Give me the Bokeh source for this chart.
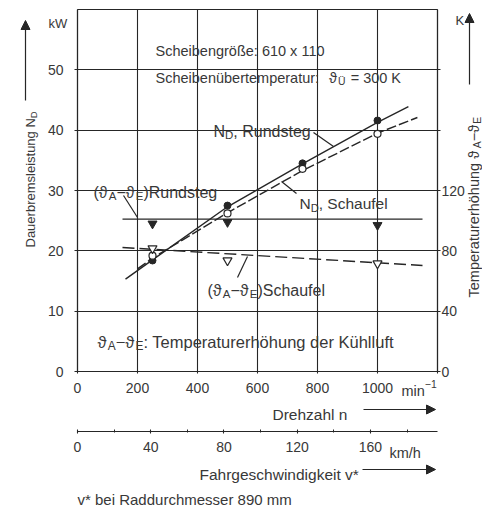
import math
from bokeh.plotting import figure
from bokeh.models import Range1d, LinearAxis, FixedTicker, Label, Arrow, NormalHead
from bokeh.embed import file_html
from bokeh.resources import INLINE

# ---------------- data ----------------
rpm_ticks = [0, 200, 400, 600, 800, 1000, 1200]
rpm_tick_labels = ["0", "200", "400", "600", "800", "1000", ""]
kmh_ticks = [0, 40, 80, 120, 160]
kmh_minor = [20, 60, 100, 140, 180]
kw_ticks = [0, 10, 20, 30, 40, 50]
k_ticks = [0, 40, 80, 120, 160, 200]
k_tick_labels = ["0", "40", "80", "120", "", ""]

# N_D curves (kW)
n_curve_rund = [160, 250, 500, 750, 1000, 1103]
nd_curve_rund = [15.3, 18.5, 27.3, 34.4, 41.3, 43.9]
n_curve_schau = [200, 250, 500, 750, 1000, 1133]
nd_curve_schau = [17.0, 18.8, 26.3, 33.3, 39.5, 42.1]

# N_D measured points (kW)
n_meas = [250, 500, 750, 1000]
nd_meas_rund = [18.4, 27.5, 34.5, 41.6]
nd_meas_schau = [19.2, 26.2, 33.6, 39.4]

# temperature rise measured points (K)
n_temp_meas = [250, 500, 1000]
temp_meas_rund = [98, 99, 97]
temp_meas_schau = [81.6, 73.6, 71.6]

# temperature rise lines (K)
n_temp_line = [150, 1150]
temp_line_rund = [101, 101]
temp_line_schau = [82.2, 70.3]

KMH_MAX = 196.6  # km/h at 1200 min^-1 as drawn

# ---------------- styling / page geometry ----------------
FONT = "Liberation Sans"
TXT = "#383838"
LC = "#262626"

WIDTH, HEIGHT = 482, 510
X0, Y0 = 77.0, 371.0           # page pixel of the data origin
SX = 360.0 / 1200.0            # px per min^-1
SY = 362.0 / 60.0              # px per kW


def dx(X):
    return (X - X0) / SX


def dy(Y):
    return (Y0 - Y) / SY


XMIN, XMAX = dx(0), dx(WIDTH)
YMIN, YMAX = dy(HEIGHT), dy(0)

W = {' ': 278, '(': 333, ')': 333, ',': 278, ':': 278, '=': 584, '−': 584, '-': 333,
     '*': 389, '/': 278, 'A': 667, 'D': 722, 'E': 667, 'K': 667, 'N': 722, 'R': 722,
     'S': 667, 'T': 611, 'F': 611, 'W': 944, 'Ü': 722, 'a': 556, 'b': 556, 'c': 500,
     'd': 556, 'e': 556, 'f': 278, 'g': 556, 'h': 556, 'i': 222, 'k': 500, 'l': 222,
     'm': 833, 'n': 556, 'o': 556, 'p': 556, 'r': 333, 's': 500, 't': 278, 'u': 556,
     'v': 500, 'w': 722, 'x': 500, 'z': 500, 'ö': 556, 'ü': 556, 'ß': 611, 'ϑ': 620,
     '1': 556}


def tw(s, size):
    return sum(W.get(c, 556) for c in s) * size / 1000.0


bg_layer, fg_layer = [], []


def rich(parts, X, Y, size, angle=0.0, pad=None, color=TXT):
    """parts: (text, kind) with kind 'n', 'sub', 'sup'; or a number = extra gap px.
    X, Y: start of text (page px), Y = vertical centre of the normal text."""
    acc = 0.0
    for part in parts:
        if isinstance(part, (int, float)):
            acc += part
            continue
        txt, kind = part
        s = size if kind == 'n' else size * 0.72
        shift = 0.0 if kind == 'n' else (0.25 * size if kind == 'sub' else -0.42 * size)
        base = 0.35 * size
        if angle == 0.0:
            px, py = X + acc, Y + base + shift
        else:
            px, py = X + base + shift, Y - acc
        kw = dict(x=dx(px), y=dy(py), text=txt, angle=angle, text_font=FONT,
                  text_font_size=f"{s:.1f}px", text_baseline="alphabetic",
                  text_align="left")
        fg_layer.append(Label(text_color=color, **kw))
        if pad is not None:
            bg_layer.append(Label(text_alpha=0.0, background_fill_color="white",
                                  padding=pad, **kw))
        acc += tw(txt, s)


p = figure(width=WIDTH, height=HEIGHT, x_range=Range1d(XMIN, XMAX),
           y_range=Range1d(YMIN, YMAX), output_backend="svg", toolbar_location=None,
           x_axis_location=None, y_axis_location=None, min_border=0)
p.extra_y_ranges = {"temp": Range1d(4 * YMIN, 4 * YMAX)}
f = KMH_MAX / 1200.0
p.extra_x_ranges = {"kmh": Range1d(XMIN * f, XMAX * f)}
p.background_fill_color = "white"
p.border_fill_color = "white"
p.outline_line_color = None
p.grid.visible = False


def style_axis(a):
    a.axis_line_color = LC
    a.axis_line_width = 1.2
    a.major_tick_line_color = LC
    a.major_tick_line_width = 1.1
    a.minor_tick_line_color = None
    a.major_label_text_font = FONT
    a.major_label_text_font_size = "14px"
    a.major_label_text_color = TXT


# left axis (kW) – its inward ticks form the horizontal grid lines
ya = LinearAxis(ticker=FixedTicker(ticks=kw_ticks), fixed_location=0, bounds=(0, 60))
style_axis(ya)
ya.major_tick_in = 360
ya.major_tick_out = 3
ya.major_label_standoff = 11
p.add_layout(ya, "left")

# right axis (K)
ra = LinearAxis(y_range_name="temp", ticker=FixedTicker(ticks=k_ticks),
                major_label_overrides=dict(zip(k_ticks, k_tick_labels)),
                fixed_location=1200, bounds=(0, 240))
style_axis(ra)
ra.major_tick_in = 0
ra.major_tick_out = 3
ra.major_label_standoff = 1
p.add_layout(ra, "right")

# bottom axis (min^-1) – inward ticks form the vertical grid lines
xa = LinearAxis(ticker=FixedTicker(ticks=rpm_ticks),
                major_label_overrides=dict(zip(rpm_ticks, rpm_tick_labels)),
                fixed_location=0, bounds=(0, 1200))
style_axis(xa)
xa.major_tick_in = 362
xa.major_tick_out = 2
xa.major_label_standoff = 9
p.add_layout(xa, "below")

# top frame line
ta = LinearAxis(ticker=FixedTicker(ticks=[]), fixed_location=60, bounds=(0, 1200))
style_axis(ta)
ta.major_tick_in = 0
ta.major_tick_out = 0
p.add_layout(ta, "above")

# second bottom axis (km/h)
ka = LinearAxis(x_range_name="kmh", ticker=FixedTicker(ticks=kmh_ticks, minor_ticks=kmh_minor),
                fixed_location=dy(431), bounds=(0, KMH_MAX))
style_axis(ka)
ka.minor_tick_line_color = LC
ka.major_tick_in = 2
ka.major_tick_out = 2
ka.minor_tick_in = 2
ka.minor_tick_out = 1
ka.major_label_standoff = 8
p.add_layout(ka, "below")

# ---------------- data glyphs ----------------
p.line(n_curve_rund, nd_curve_rund, line_color=LC, line_width=1.4, level="overlay")
p.line(n_curve_schau, nd_curve_schau, line_color=LC, line_width=1.4, line_dash="10 3",
       level="overlay")
p.line(n_temp_line, temp_line_rund, y_range_name="temp", line_color=LC, line_width=1.4,
       level="overlay")
p.line(n_temp_line, temp_line_schau, y_range_name="temp", line_color=LC, line_width=1.4,
       line_dash="12 5", level="overlay")

p.scatter(n_meas, nd_meas_rund, marker="circle", size=7, fill_color=LC, line_color=LC,
          level="overlay")
p.scatter(n_meas, nd_meas_schau, marker="circle", size=7, fill_color="white",
          line_color=LC, line_width=1.2, level="overlay")
p.scatter(n_temp_meas, temp_meas_rund, y_range_name="temp", marker="inverted_triangle",
          size=9, fill_color=LC, line_color=LC, level="overlay")
p.scatter(n_temp_meas, temp_meas_schau, y_range_name="temp", marker="inverted_triangle",
          size=9, fill_color="white", line_color=LC, line_width=1.2, level="overlay")

# ---------------- texts ----------------
rich([("kW", 'n')], 48, 18, 13)
rich([("K", 'n')], 455, 15, 13)

rich([("Scheibengröße: 610 x 110", 'n')], 155, 45, 14.5, pad=8)
rich([("Scheibenübertemperatur:", 'n'), 10, ("ϑ", 'n'), ("Ü", 'sub'), 5, ("= 300 K", 'n')],
     155, 72, 14.5, pad=8)

rich([("N", 'n'), ("D", 'sub'), (", Rundsteg", 'n')], 213, 125, 16, pad=3)
rich([("N", 'n'), ("D", 'sub'), (", Schaufel", 'n')], 299, 198, 15.5, pad=3)
rich([("(ϑ", 'n'), ("A", 'sub'), ("−ϑ", 'n'), ("E", 'sub'), (")Rundsteg", 'n')],
     93, 186, 16, pad=3)
rich([("(ϑ", 'n'), ("A", 'sub'), ("−ϑ", 'n'), ("E", 'sub'), (")Schaufel", 'n')],
     207, 284, 16, pad=3)
rich([("ϑ", 'n'), ("A", 'sub'), ("−ϑ", 'n'), ("E", 'sub'),
      (": Temperaturerhöhung der Kühlluft", 'n')], 97, 336, 16.5, pad=4)

rich([("min", 'n'), ("−1", 'sup')], 401, 385, 14.5)
rich([("Drehzahl n", 'n')], 272, 409, 15.5)
rich([("km/h", 'n')], 389, 447, 14.5)
rich([("Fahrgeschwindigkeit v*", 'n')], 199, 469, 15.5)
rich([("v* bei Raddurchmesser 890 mm", 'n')], 77, 494, 15)

rich([("Dauerbremsleistung N", 'n'), ("D", 'sub')], 25, 247, 13, angle=math.pi / 2)
rich([("Temperaturerhöhung ϑ", 'n'), ("A", 'sub'), ("−ϑ", 'n'), ("E", 'sub')],
     468, 297, 14.5, angle=math.pi / 2)

for lab in bg_layer + fg_layer:
    p.add_layout(lab)


# ---------------- arrows & leader lines ----------------
def arrow(x1, y1, x2, y2, head=True):
    end = NormalHead(size=9, fill_color=LC, line_color=LC, line_width=1) if head else None
    p.add_layout(Arrow(x_start=dx(x1), y_start=dy(y1), x_end=dx(x2), y_end=dy(y2),
                       end=end, line_color=LC, line_width=1.2))


arrow(25, 100, 25, 20)
arrow(469, 84, 469, 13)
arrow(363, 409, 435, 409)
arrow(362, 469, 435, 469)

arrow(313, 132, 333, 146, head=False)
arrow(281, 181, 296, 193, head=False)
arrow(123, 195, 137, 217, head=False)
arrow(237, 277, 247, 256, head=False)

open("out.html", "w").write(file_html(p, INLINE))
